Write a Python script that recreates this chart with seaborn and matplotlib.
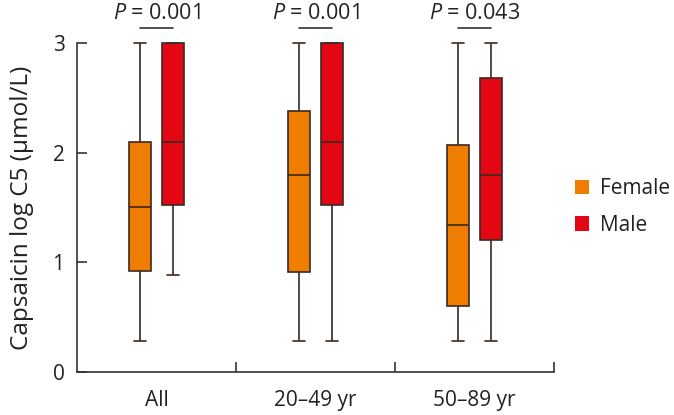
"""辣椒素咳嗽阈值 箱线图"""
import numpy as np
import pandas as pd
import seaborn as sns
import matplotlib
matplotlib.use("Agg")
import matplotlib.pyplot as plt
from matplotlib.patches import Patch

# 分组与性别
groups = ["All", "20–49 yr", "50–89 yr"]
sexes = ["Female", "Male"]
colors = {"Female": "#EF7D00", "Male": "#E30613"}

# 每个箱子的五数概括: 下须, Q1, 中位数, Q3, 上须
female_stats = [
    [0.28, 0.92, 1.50, 2.10, 3.00],
    [0.28, 0.91, 1.80, 2.38, 3.00],
    [0.28, 0.60, 1.34, 2.07, 3.00],
]
male_stats = [
    [0.88, 1.52, 2.10, 3.00, 3.00],
    [0.28, 1.52, 2.10, 3.00, 3.00],
    [0.28, 1.20, 1.80, 2.68, 3.00],
]
p_values = ["0.001", "0.001", "0.043"]

rows = []
for g, fs, ms in zip(groups, female_stats, male_stats):
    for v in fs:
        rows.append({"group": g, "sex": "Female", "value": v})
    for v in ms:
        rows.append({"group": g, "sex": "Male", "value": v})
df = pd.DataFrame(rows)

sns.set_style("ticks")
plt.rcParams["font.family"] = ["Open Sans", "DejaVu Sans"]
plt.rcParams["mathtext.fontset"] = "custom"
plt.rcParams["mathtext.it"] = "Open Sans:italic"
plt.rcParams["mathtext.rm"] = "Open Sans"

fig = plt.figure(figsize=(6.74, 4.15), dpi=100)
ax = fig.add_axes([77 / 674, 1 - 372 / 415, (554 - 77) / 674, (372 - 43) / 415])

line_c = "#3a2a22"
sns.boxplot(
    data=df, x="group", y="value", hue="sex", order=groups, hue_order=sexes,
    palette=colors, whis=(0, 100), width=0.415, gap=0.33, saturation=1,
    linecolor=line_c, linewidth=1.2, legend=False, ax=ax,
)
for art in ax.patches + ax.lines:
    art.set_clip_on(False)

txt_c = "#222222"
ax.set_xlim(-0.5, 2.5)
ax.set_ylim(0, 3)
ax.set_yticks([0, 1, 2, 3])
ax.set_xticks([0.5, 1.5, 2.5])
ax.set_xticklabels([])
ax.set_xticks([0, 1, 2], minor=True)
ax.set_xticklabels(groups, minor=True)
ax.tick_params(axis="x", which="major", direction="in", length=7, width=1.2, color="#333333")
ax.tick_params(axis="x", which="minor", length=0, pad=13, labelsize=15, labelcolor=txt_c)
ax.tick_params(axis="y", direction="in", length=7, width=1.2, color="#333333",
               pad=9, labelsize=15, labelcolor=txt_c)
ax.set_xlabel("")
ax.set_ylabel("Capsaicin log C5 (μmol/L)", fontsize=17.5, color=txt_c, labelpad=13)
for s in ["top", "right"]:
    ax.spines[s].set_visible(False)
for s in ["left", "bottom"]:
    ax.spines[s].set_color("#333333")
    ax.spines[s].set_linewidth(1.2)

# P 值标注
off = 0.415 / 4
for i, p in enumerate(p_values):
    ax.plot([i - off, i + off], [3.14, 3.14], color="#333333", lw=1.2, clip_on=False)
    ax.text(i, 3.27, f"$P$ = {p}", ha="center", va="center", fontsize=15.5,
            color=txt_c, clip_on=False)

handles = [Patch(facecolor=colors[s], edgecolor="none", label=s) for s in sexes]
fig.legend(handles=handles, loc="center left", bbox_to_anchor=(556 / 674, 1 - 207 / 415),
           frameon=False, fontsize=15, handlelength=0.67, handleheight=0.67,
           handletextpad=0.55, labelspacing=0.75, labelcolor=txt_c)

fig.savefig("out.png", dpi=100)
